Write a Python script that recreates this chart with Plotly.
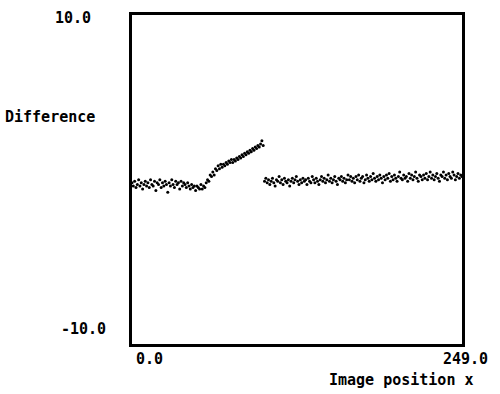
import plotly.graph_objects as go

# x positions (image position) and difference values
x_left = list(range(0, 100))
y_left = [
    -0.6, -0.8, -0.5, -0.9, -0.7, -0.4, -0.8, -0.6, -1.0, -0.7,
    -0.5, -0.8, -0.6, -0.9, -0.4, -0.7, -0.8, -0.5, -1.1, -0.6,
    -0.7, -0.4, -0.9, -0.6, -0.8, -0.5, -0.7, -1.2, -0.6, -0.8,
    -0.4, -0.7, -0.9, -0.5, -0.7, -0.6, -1.0, -0.5, -0.8, -0.6,
    -0.7, -0.9, -0.6, -0.8, -1.0, -0.7, -0.9, -0.8, -1.1, -0.8,
    -0.9, -1.0, -0.7, -1.0, -0.8, -0.9,
    -0.6, -0.4, -0.5, -0.1, -0.2, 0.1, -0.1, 0.3, 0.2, 0.5,
    0.3, 0.6, 0.4, 0.6, 0.5, 0.7, 0.6, 0.8, 0.7, 0.9,
    0.7, 0.9, 0.8, 1.0, 0.9, 1.1, 1.0, 1.2, 1.1, 1.3,
    1.2, 1.4, 1.3, 1.5, 1.4, 1.6, 1.5, 1.7, 1.6, 1.8,
    1.7, 1.9, 2.1, 1.8,
]
x_right = list(range(100, 250))
y_right = [
    -0.5, -0.3, -0.6, -0.4, -0.7, -0.5, -0.3, -0.6, -0.8, -0.4,
    -0.5, -0.2, -0.6, -0.4, -0.7, -0.3, -0.5, -0.6, -0.4, -0.8,
    -0.5, -0.3, -0.6, -0.4, -0.2, -0.5, -0.7, -0.4, -0.6, -0.3,
    -0.5, -0.4, -0.7, -0.3, -0.5, -0.6, -0.2, -0.4, -0.6, -0.3,
    -0.5, -0.7, -0.4, -0.2, -0.5, -0.3, -0.6, -0.4, -0.1, -0.5,
    -0.3, -0.6, -0.4, -0.2, -0.5, -0.7, -0.3, -0.4, -0.2, -0.5,
    -0.3, -0.6, -0.4, -0.1, -0.4, -0.2, -0.5, -0.3, -0.6, -0.2,
    -0.4, -0.1, -0.5, -0.3, -0.2, -0.6, -0.4, -0.1, -0.3, -0.5,
    -0.2, -0.4, 0.0, -0.3, -0.5, -0.2, -0.4, -0.1, -0.3, -0.6,
    -0.2, -0.4, -0.1, -0.3, 0.0, -0.5, -0.2, -0.4, -0.1, -0.3,
    -0.5, -0.2, 0.1, -0.3, -0.4, -0.1, -0.3, -0.2, -0.5, 0.0,
    -0.3, -0.1, -0.4, -0.2, 0.1, -0.3, -0.5, -0.1, -0.2, -0.4,
    -0.1, -0.3, 0.0, -0.4, -0.2, 0.1, -0.3, -0.1, -0.4, -0.2,
    0.0, -0.3, -0.5, -0.1, -0.2, 0.1, -0.3, -0.1, -0.4, 0.0,
    -0.2, -0.3, 0.1, -0.1, -0.4, -0.2, 0.0, -0.3, -0.1, -0.2,
]

x_range = [0.0, 249.0]
x_labels = ["0.0", "249.0"]
y_labels = ["10.0", "-10.0"]
x_title = "Image position x"
y_title = "Difference"

FONT = dict(family="DejaVu Sans Mono", size=15, color="black")

fig = go.Figure()
fig.add_trace(go.Scatter(
    x=x_left + x_right, y=y_left + y_right, mode="markers",
    marker=dict(color="black", size=3, line=dict(width=0)),
    cliponaxis=False, showlegend=False,
))

axis_common = dict(showgrid=False, zeroline=False, showticklabels=False,
                   ticks="", showline=True, mirror=True,
                   linecolor="black", linewidth=2.5)
fig.update_xaxes(range=x_range, **axis_common)
fig.update_yaxes(range=[-10.96, 10.19], **axis_common)

def lab(text, x, y, xanchor):
    fig.add_annotation(text="<b>%s</b>" % text, showarrow=False, font=FONT,
                       x=x, y=y, xref="paper", yref="paper",
                       xanchor=xanchor, yanchor="middle")

lab(y_labels[0], -0.118, 0.991, "right")
lab(y_labels[1], -0.073, 0.045, "right")
lab(y_title, -0.106, 0.69, "right")
lab(x_labels[0], 0.006, -0.045, "left")
lab(x_labels[1], 1.085, -0.045, "right")
lab(x_title, 1.042, -0.108, "right")

fig.update_layout(
    width=500, height=394,
    margin=dict(l=132, r=38, t=12, b=50),
    paper_bgcolor="white", plot_bgcolor="white",
)
fig.write_html("out.html")
